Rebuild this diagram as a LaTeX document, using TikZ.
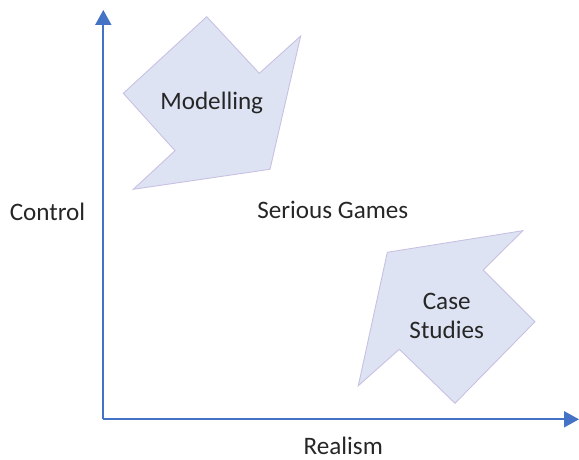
\documentclass[tikz,border=0pt]{standalone}
\usepackage{fontspec}
\setmainfont{Carlito}
\usetikzlibrary{arrows.meta}
\definecolor{axisblue}{RGB}{68,114,196}
\definecolor{shapefill}{RGB}{221,227,243}
\definecolor{shapeline}{RGB}{200,192,226}
\begin{document}
\begin{tikzpicture}[
    axis/.style = {axisblue, line width = 1.1pt, -{Triangle[width = 0.32cm, length = 0.3cm]}},
    blockarrow/.style = {fill = shapefill, draw = shapeline, line width = 0.5pt},
    txt/.style = {text = black!85, font = \fontsize{14.3}{17}\selectfont, anchor = base, inner sep = 0pt}
    ]
        \useasboundingbox (0, 0) rectangle (11.58, 9.18);
        \draw[blockarrow] (4.134, 8.846) -- (5.186, 7.714) -- (6.014, 8.46) -- (5.4, 5.794)
            -- (2.666, 5.394) -- (3.5, 6.166) -- (2.466, 7.314) -- cycle;
        \draw[blockarrow] (7.746, 4.134) -- (10.454, 4.566) -- (9.666, 3.78) -- (10.7, 2.746)
            -- (9.1, 1.114) -- (7.986, 2.194) -- (7.166, 1.466) -- cycle;
        \coordinate (origin) at (2.066, 0.794);
        \coordinate (ytop) at (2.066, 8.98);
        \coordinate (xend) at (11.58, 0.794);
        \draw[axis] (origin) -- (ytop);
        \draw[axis] (origin) -- (xend);
        \node[txt] (modelling) at (4.234, 6.98) {Modelling};
        \node[txt] (case) at (8.934, 2.994) {Case};
        \node[txt] (studies) at (8.934, 2.414) {Studies};
        \node[txt] (serious) at (6.656, 4.8) {Serious Games};
        \node[txt] (control) at (0.95, 4.76) {Control};
        \node[txt] (realism) at (6.866, 0.1) {Realism};
    \end{tikzpicture}
\end{document}
